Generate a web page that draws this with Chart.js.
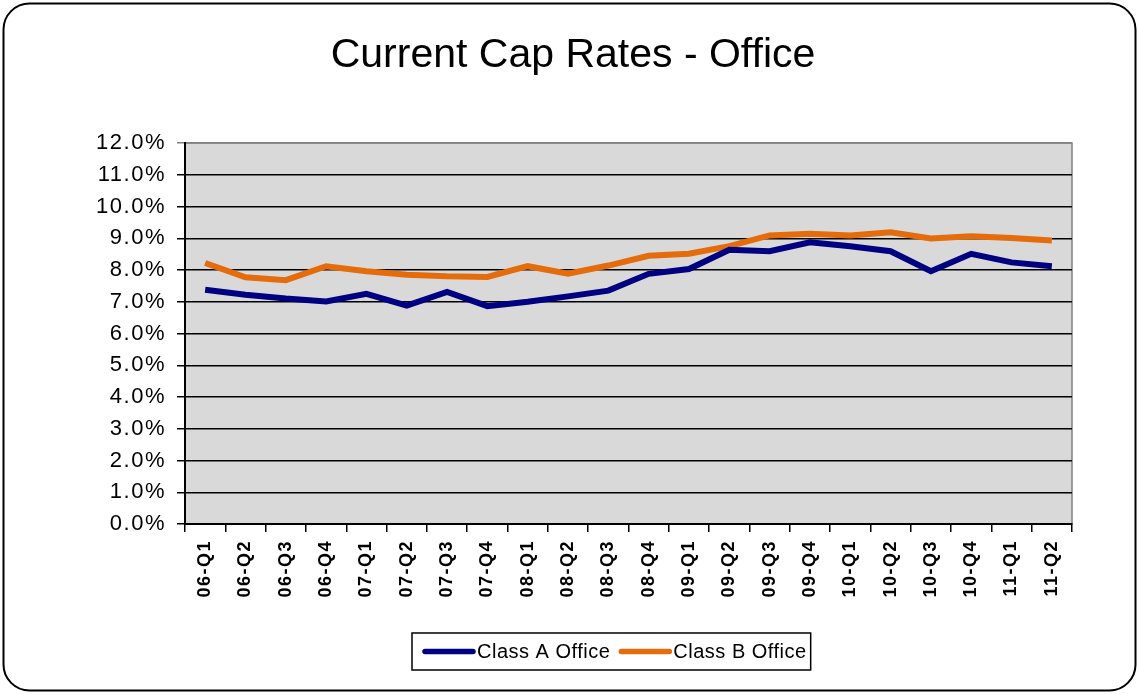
<!DOCTYPE html>
<html>
<head>
<meta charset="utf-8">
<script src="https://cdn.jsdelivr.net/npm/chart.js@4/dist/chart.umd.min.js"></script>
<style>
    html, body { margin: 0; padding: 0; background: #fff; }
    #wrap { width: 1139px; height: 694px; position: relative; }
</style>
</head>
<body>
<div id="wrap"><canvas id="cap-chart" width="1139" height="694"></canvas></div>
<script>
const quarters = ['06-Q1', '06-Q2', '06-Q3', '06-Q4', '07-Q1', '07-Q2', '07-Q3', '07-Q4',
    '08-Q1', '08-Q2', '08-Q3', '08-Q4', '09-Q1', '09-Q2', '09-Q3', '09-Q4',
    '10-Q1', '10-Q2', '10-Q3', '10-Q4', '11-Q1', '11-Q2']

const classA = [7.38, 7.22, 7.10, 7.01, 7.25, 6.88, 7.31, 6.86, 7.00, 7.17, 7.35,
    7.88, 8.03, 8.64, 8.59, 8.87, 8.75, 8.59, 7.96, 8.51, 8.24, 8.12]

const classB = [8.22, 7.77, 7.68, 8.12, 7.96, 7.85, 7.80, 7.78, 8.12, 7.88, 8.14,
    8.45, 8.51, 8.75, 9.09, 9.14, 9.09, 9.19, 8.99, 9.06, 9.01, 8.93]

const seriesNames = ['Class A Office', 'Class B Office']
const seriesColors = ['#000080', '#E46C0A']

const chartTitle = 'Current Cap Rates - Office'
const FONT = 'Arial, "Liberation Sans", sans-serif'

// frame, title, plot background, legend
const framePlugin = {
    id: 'frame',
    beforeDraw(chart) {
        const ctx = chart.ctx
        const a = chart.chartArea
        ctx.save()
        ctx.fillStyle = '#fff'
        ctx.fillRect(0, 0, chart.width, chart.height)

        ctx.beginPath()
        ctx.roundRect(3.5, 3.5, chart.width - 7, chart.height - 7, 26)
        ctx.lineWidth = 2
        ctx.strokeStyle = '#000'
        ctx.stroke()

        ctx.fillStyle = '#d9d9d9'
        ctx.fillRect(a.left, a.top, a.right - a.left, a.bottom - a.top)
        ctx.strokeStyle = '#808080'
        ctx.lineWidth = 1.5
        ctx.strokeRect(a.left, a.top, a.right - a.left, a.bottom - a.top)

        ctx.letterSpacing = '0px'
        ctx.fillStyle = '#000'
        ctx.font = `41px ${FONT}`
        ctx.textAlign = 'center'
        ctx.textBaseline = 'middle'
        ctx.fillText(chartTitle, 573, 56)
        ctx.restore()

        // excel-ish loose text spacing for the axis labels
        ctx.letterSpacing = '1.5px'
    },
    afterDraw(chart) {
        const ctx = chart.ctx
        ctx.save()
        ctx.letterSpacing = '0.5px'
        ctx.font = `20px ${FONT}`
        ctx.textBaseline = 'middle'
        const boxX = 412, boxY = 633, boxH = 37
        const cy = boxY + boxH / 2
        let x = boxX + 11
        chart.data.datasets.forEach(ds => {
            ctx.strokeStyle = ds.borderColor
            ctx.lineWidth = 5.5
            ctx.lineCap = 'round'
            ctx.beginPath()
            ctx.moveTo(x + 2, cy)
            ctx.lineTo(x + 50, cy)
            ctx.stroke()
            ctx.fillStyle = '#000'
            ctx.fillText(ds.label, x + 54, cy + 1)
            x += 54 + ctx.measureText(ds.label).width + 9
        })
        ctx.strokeStyle = '#000'
        ctx.lineWidth = 1.5
        ctx.lineCap = 'butt'
        ctx.strokeRect(boxX, boxY, x - boxX - 5, boxH)
        ctx.restore()
        ctx.letterSpacing = '0px'
    }
}

new Chart(document.getElementById('cap-chart').getContext('2d'), {
    type: 'line',
    data: {
        labels: quarters,
        datasets: [classA, classB].map((vals, i) => ({
            label: seriesNames[i],
            data: vals,
            borderColor: seriesColors[i],
            backgroundColor: seriesColors[i],
            borderWidth: 6,
            pointRadius: 0,
            tension: 0,
            fill: false
        }))
    },
    options: {
        responsive: false,
        animation: false,
        layout: { padding: { top: 143, right: 67, bottom: 62, left: 0 } },
        plugins: {
            legend: { display: false },
            title: { display: false },
            tooltip: { enabled: false }
        },
        scales: {
            x: {
                offset: true,
                grid: {
                    offset: true,
                    drawOnChartArea: false,
                    drawTicks: true,
                    tickLength: 8,
                    color: '#000',
                    lineWidth: 1.5
                },
                border: { color: '#000', width: 2 },
                ticks: {
                    color: '#000',
                    font: { family: FONT, size: 18, weight: 'bold' },
                    minRotation: 90,
                    maxRotation: 90,
                    padding: 8,
                    autoSkip: false
                },
                afterFit(scale) { scale.height = 108 }
            },
            y: {
                min: 0,
                max: 12,
                grid: {
                    color: ctx => ctx.index === 12 ? '#808080' : '#000',
                    lineWidth: 1.5,
                    drawTicks: true,
                    tickLength: 8
                },
                border: { color: '#000', width: 2 },
                ticks: {
                    stepSize: 1,
                    color: '#000',
                    padding: 11,
                    font: { family: FONT, size: 22 },
                    callback: v => v.toFixed(1) + '%'
                },
                afterFit(scale) { scale.width = 185 }
            }
        }
    },
    plugins: [framePlugin]
})
</script>
</body>
</html>
